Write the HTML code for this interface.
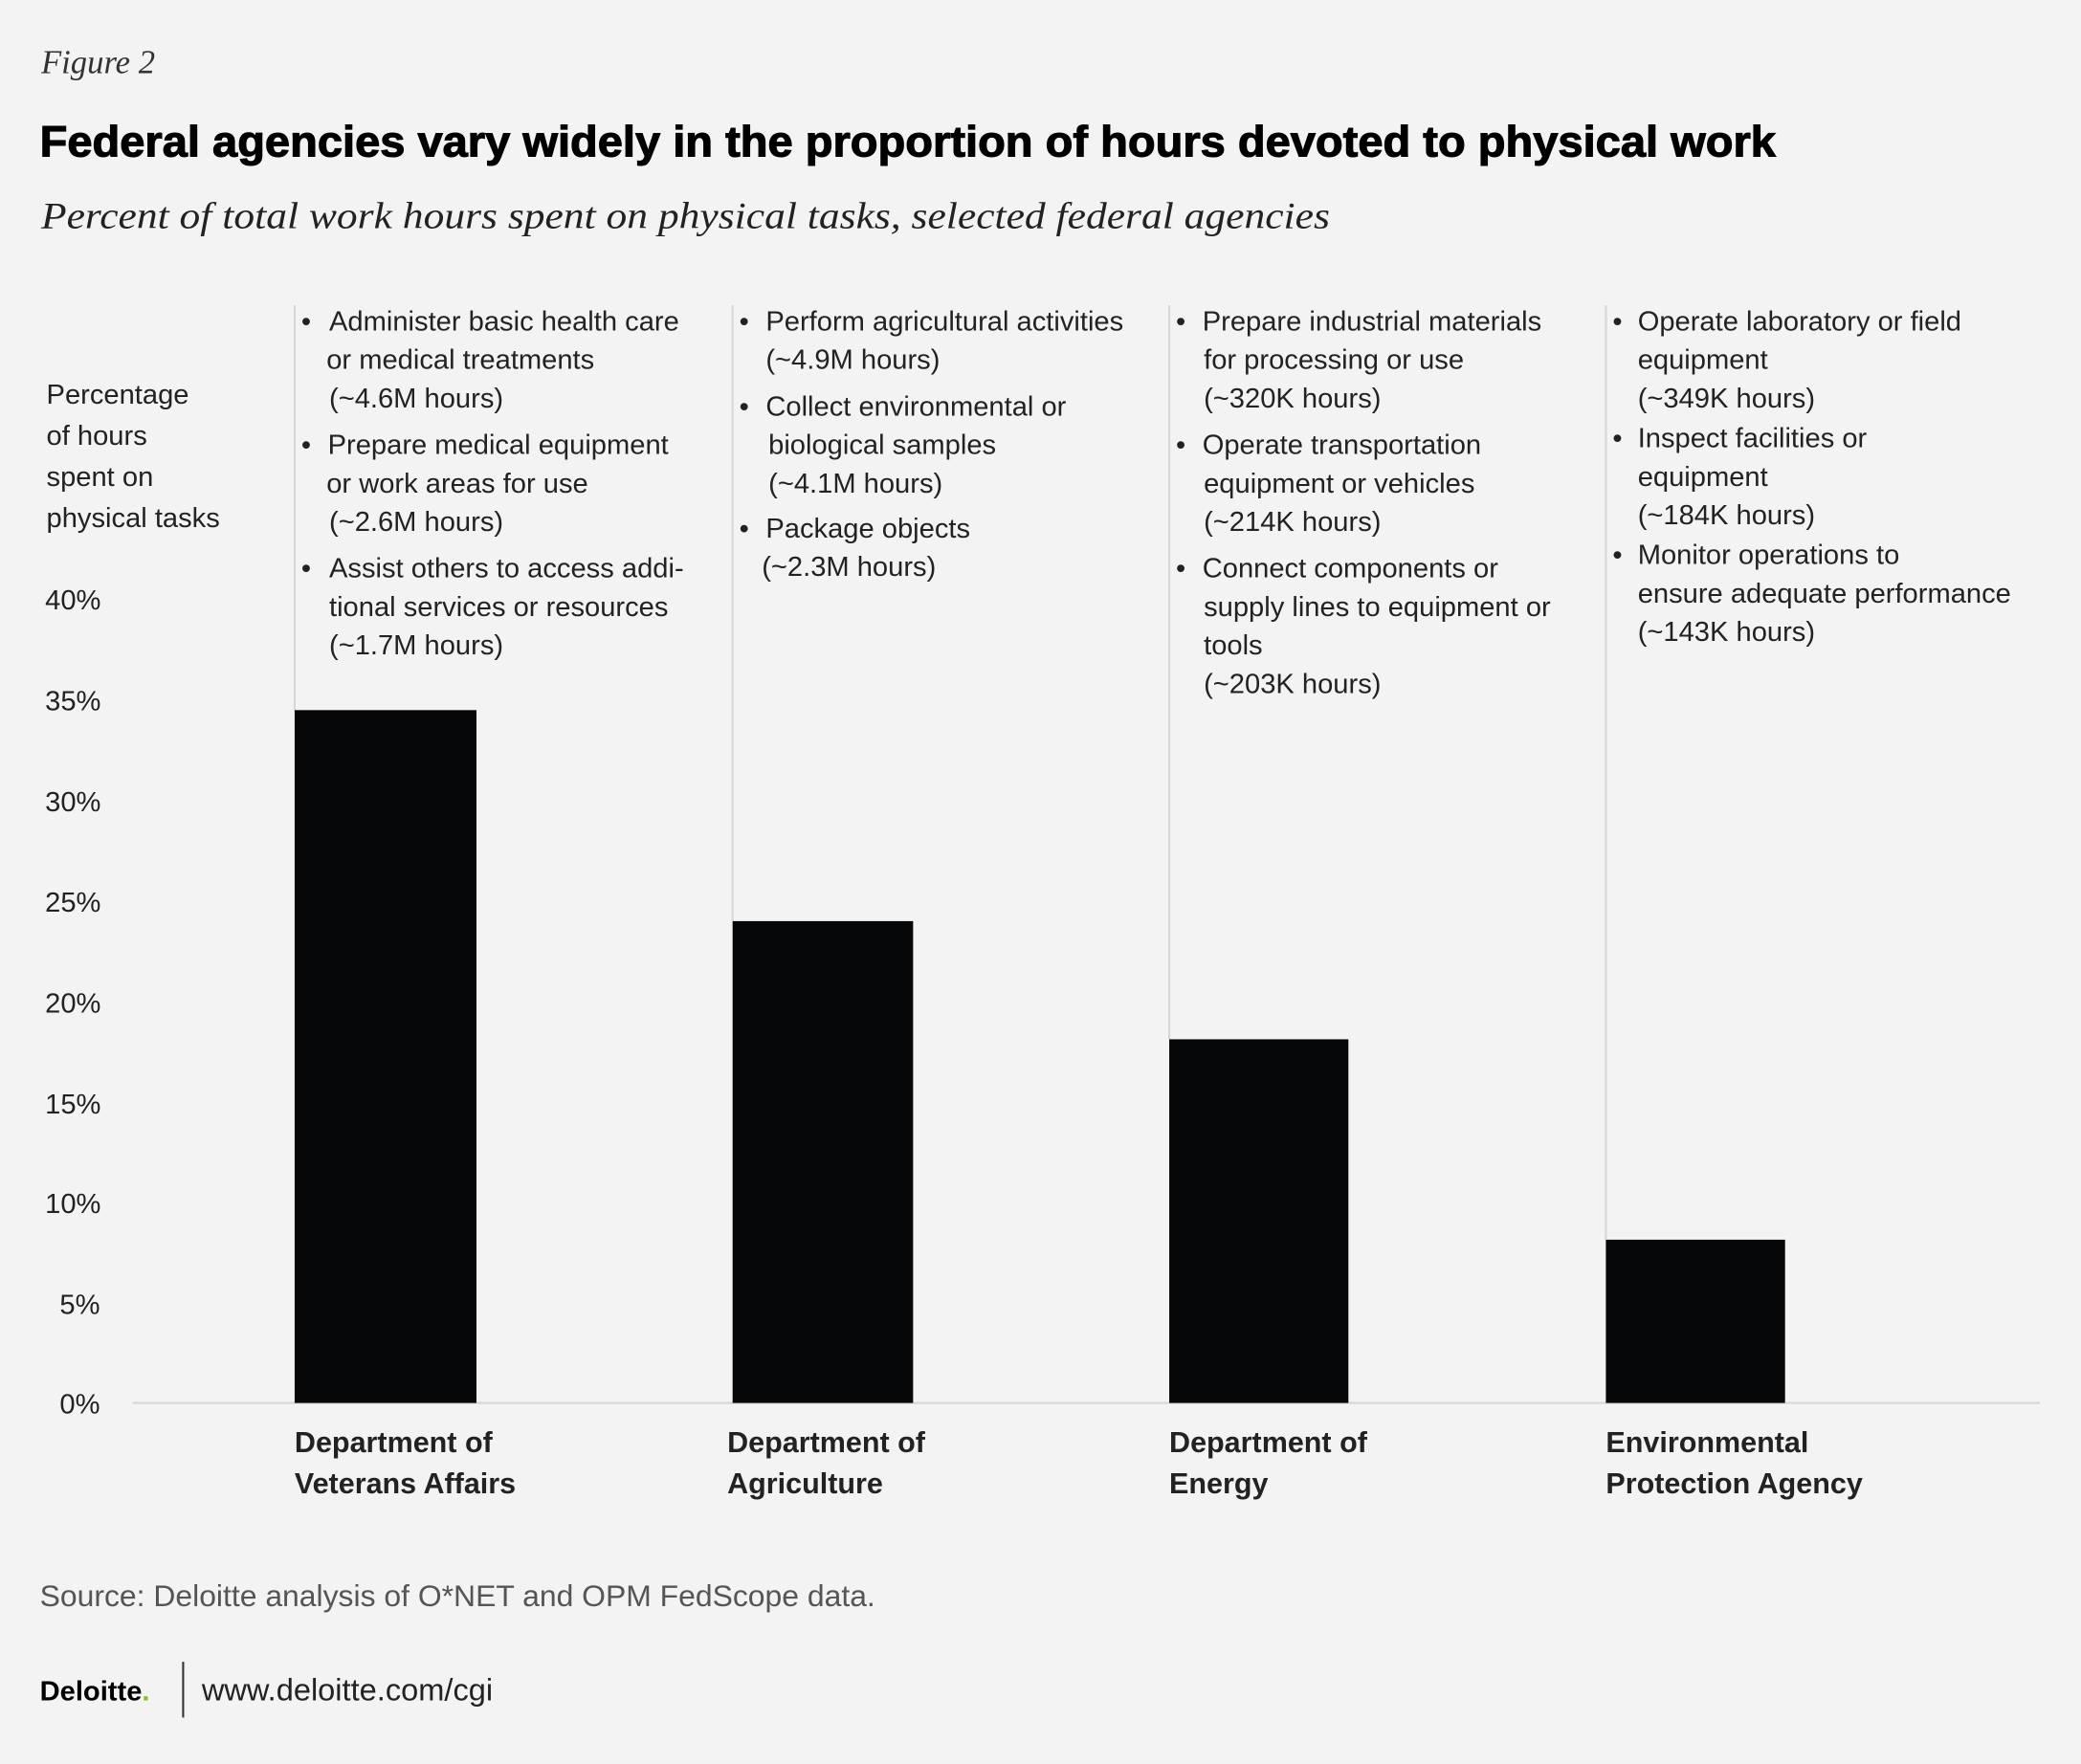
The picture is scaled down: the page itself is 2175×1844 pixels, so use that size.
<!DOCTYPE html>
<html><head><meta charset="utf-8"><style>
html,body{margin:0;padding:0;background:#f3f3f3;}
svg{display:block;}
text{font-family:"Liberation Sans",sans-serif;fill:#222;}
.b{font-size:21px;fill:#1a1a1a;}
.t{font-size:21px;fill:#555;}
.c{font-size:22px;font-weight:bold;fill:#111;}
</style></head><body>
<svg width="2175" height="1844" viewBox="0 0 1568 1329" preserveAspectRatio="none" xmlns="http://www.w3.org/2000/svg">
<rect width="1568" height="1329" fill="#f3f3f3"/>
<text x="31" y="55" style="font-family:'Liberation Serif',serif;font-style:italic;font-size:25px;fill:#333">Figure 2</text>
<text x="30" y="118" textLength="1308" lengthAdjust="spacingAndGlyphs" style="font-size:33px;font-weight:bold;fill:#000;stroke:#000;stroke-width:0.8">Federal agencies vary widely in the proportion of hours devoted to physical work</text>
<text x="31" y="172" textLength="971" lengthAdjust="spacingAndGlyphs" style="font-family:'Liberation Serif',serif;font-style:italic;font-size:28px;fill:#222">Percent of total work hours spent on physical tasks, selected federal agencies</text>

<g class="t">
<text x="35" y="304">Percentage</text>
<text x="35" y="335">of hours</text>
<text x="35" y="366">spent on</text>
<text x="35" y="397">physical tasks</text>
<text x="34" y="459">40%</text>
<text x="34" y="535">35%</text>
<text x="34" y="611">30%</text>
<text x="34" y="687">25%</text>
<text x="34" y="763">20%</text>
<text x="34" y="839">15%</text>
<text x="34" y="914">10%</text>
<text x="45" y="990">5%</text>
<text x="45" y="1065">0%</text>
</g>

<g stroke="#d6d6d6" stroke-width="1.5">
<line x1="222" y1="230" x2="222" y2="535"/>
<line x1="552" y1="230" x2="552" y2="694"/>
<line x1="881" y1="230" x2="881" y2="783"/>
<line x1="1210" y1="230" x2="1210" y2="934"/>
<line x1="100" y1="1057" x2="1537" y2="1057"/>
</g>

<g fill="#050708">
<rect x="222" y="535" width="137" height="522"/>
<rect x="552" y="694" width="136" height="363"/>
<rect x="881" y="783" width="135" height="274"/>
<rect x="1210" y="934" width="135" height="123"/>
</g>

<g class="b">
<text x="227" y="249">•</text><text x="248" y="249">Administer basic health care</text>
<text x="246" y="278">or medical treatments</text>
<text x="248" y="307">(~4.6M hours)</text>
<text x="227" y="342">•</text><text x="247" y="342">Prepare medical equipment</text>
<text x="246" y="371">or work areas for use</text>
<text x="248" y="400">(~2.6M hours)</text>
<text x="227" y="435">•</text><text x="248" y="435">Assist others to access addi-</text>
<text x="248" y="464">tional services or resources</text>
<text x="248" y="493">(~1.7M hours)</text>

<text x="557" y="249">•</text><text x="577" y="249">Perform agricultural activities</text>
<text x="577" y="278">(~4.9M hours)</text>
<text x="557" y="313">•</text><text x="577" y="313">Collect environmental or</text>
<text x="579" y="342">biological samples</text>
<text x="579" y="371">(~4.1M hours)</text>
<text x="557" y="405">•</text><text x="577" y="405">Package objects</text>
<text x="574" y="434">(~2.3M hours)</text>

<text x="886" y="249">•</text><text x="906" y="249">Prepare industrial materials</text>
<text x="907" y="278">for processing or use</text>
<text x="907" y="307">(~320K hours)</text>
<text x="886" y="342">•</text><text x="906" y="342">Operate transportation</text>
<text x="907" y="371">equipment or vehicles</text>
<text x="907" y="400">(~214K hours)</text>
<text x="886" y="435">•</text><text x="906" y="435">Connect components or</text>
<text x="907" y="464">supply lines to equipment or</text>
<text x="907" y="493">tools</text>
<text x="907" y="522">(~203K hours)</text>

<text x="1215" y="249">•</text><text x="1234" y="249">Operate laboratory or field</text>
<text x="1234" y="278">equipment</text>
<text x="1234" y="307">(~349K hours)</text>
<text x="1215" y="337">•</text><text x="1234" y="337">Inspect facilities or</text>
<text x="1234" y="366">equipment</text>
<text x="1234" y="395">(~184K hours)</text>
<text x="1215" y="425">•</text><text x="1234" y="425">Monitor operations to</text>
<text x="1234" y="454">ensure adequate performance</text>
<text x="1234" y="483">(~143K hours)</text>
</g>

<g class="c">
<text x="222" y="1094">Department of</text>
<text x="222" y="1125">Veterans Affairs</text>
<text x="548" y="1094">Department of</text>
<text x="548" y="1125">Agriculture</text>
<text x="881" y="1094">Department of</text>
<text x="881" y="1125">Energy</text>
<text x="1210" y="1094">Environmental</text>
<text x="1210" y="1125">Protection Agency</text>
</g>

<text x="30" y="1210" style="font-size:23px;fill:#555">Source: Deloitte analysis of O*NET and OPM FedScope data.</text>
<text x="30" y="1281" style="font-size:21px;font-weight:bold;fill:#000">Deloitte<tspan style="fill:#86bc25">.</tspan></text>
<line x1="138" y1="1252" x2="138" y2="1294" stroke="#333" stroke-width="1.5"/>
<text x="152" y="1281" style="font-size:23.5px;fill:#222">www.deloitte.com/cgi</text>
</svg>
</body></html>
